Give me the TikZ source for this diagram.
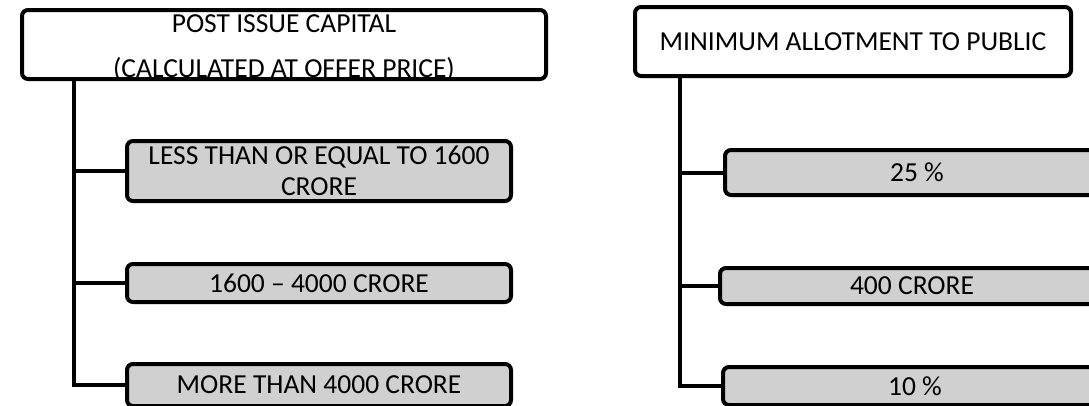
\documentclass[tikz,border=0pt]{standalone}
\usepackage{fontspec}
\setmainfont{Carlito}
\definecolor{subgray}{RGB}{208,208,208}
\begin{document}
\begin{tikzpicture}[x=1pt,y=-1pt,
  box/.style={draw=black, line width=4pt, rounded corners=6pt, inner sep=0pt,
    align=center, font=\fontsize{27.5pt}{31pt}\selectfont, text=black},
  topbox/.style={box, fill=white, minimum height=69pt},
  subbox/.style={box, fill=subgray, minimum width=384pt},
  conn/.style={draw=black, line width=4pt}]
\useasboundingbox (0,0) rectangle (1089,405);
\clip (0,0) rectangle (1089,405);

% left column
\node[topbox, minimum width=524pt] (ltop) at (284,44.5)
  {\raisebox{-10.5pt}[0pt][0pt]{\begin{tabular}{@{}c@{}}POST ISSUE CAPITAL\\[14pt](CALCULATED AT OFFER PRICE)\end{tabular}}};
\node[subbox, minimum height=60pt] (l1) at (319,171) {LESS THAN OR EQUAL TO 1600\\CRORE};
\node[subbox, minimum height=38pt] (l2) at (319,283) {1600 – 4000 CRORE};
\node[subbox, minimum height=42pt] (l3) at (319,385) {MORE THAN 4000 CRORE};

% right column
\node[topbox, minimum width=436pt] (rtop) at (853,41.5) {MINIMUM ALLOTMENT TO PUBLIC};
\node[subbox, minimum height=45pt] (r1) at (917,172.5) {25 \%};
\node[subbox, minimum height=36pt] (r2) at (912,286) {400 CRORE};
\node[subbox, minimum height=38pt] (r3) at (915,386) {10 \%};

% connectors
\draw[conn] ([xshift=54pt]ltop.south west) |- (l1.west);
\draw[conn] ([xshift=54pt]ltop.south west) |- (l2.west);
\draw[conn] ([xshift=54pt]ltop.south west) |- (l3.west);
\draw[conn] ([xshift=47pt]rtop.south west) |- (r1.west);
\draw[conn] ([xshift=47pt]rtop.south west) |- (r2.west);
\draw[conn] ([xshift=47pt]rtop.south west) |- (r3.west);
\end{tikzpicture}
\end{document}
